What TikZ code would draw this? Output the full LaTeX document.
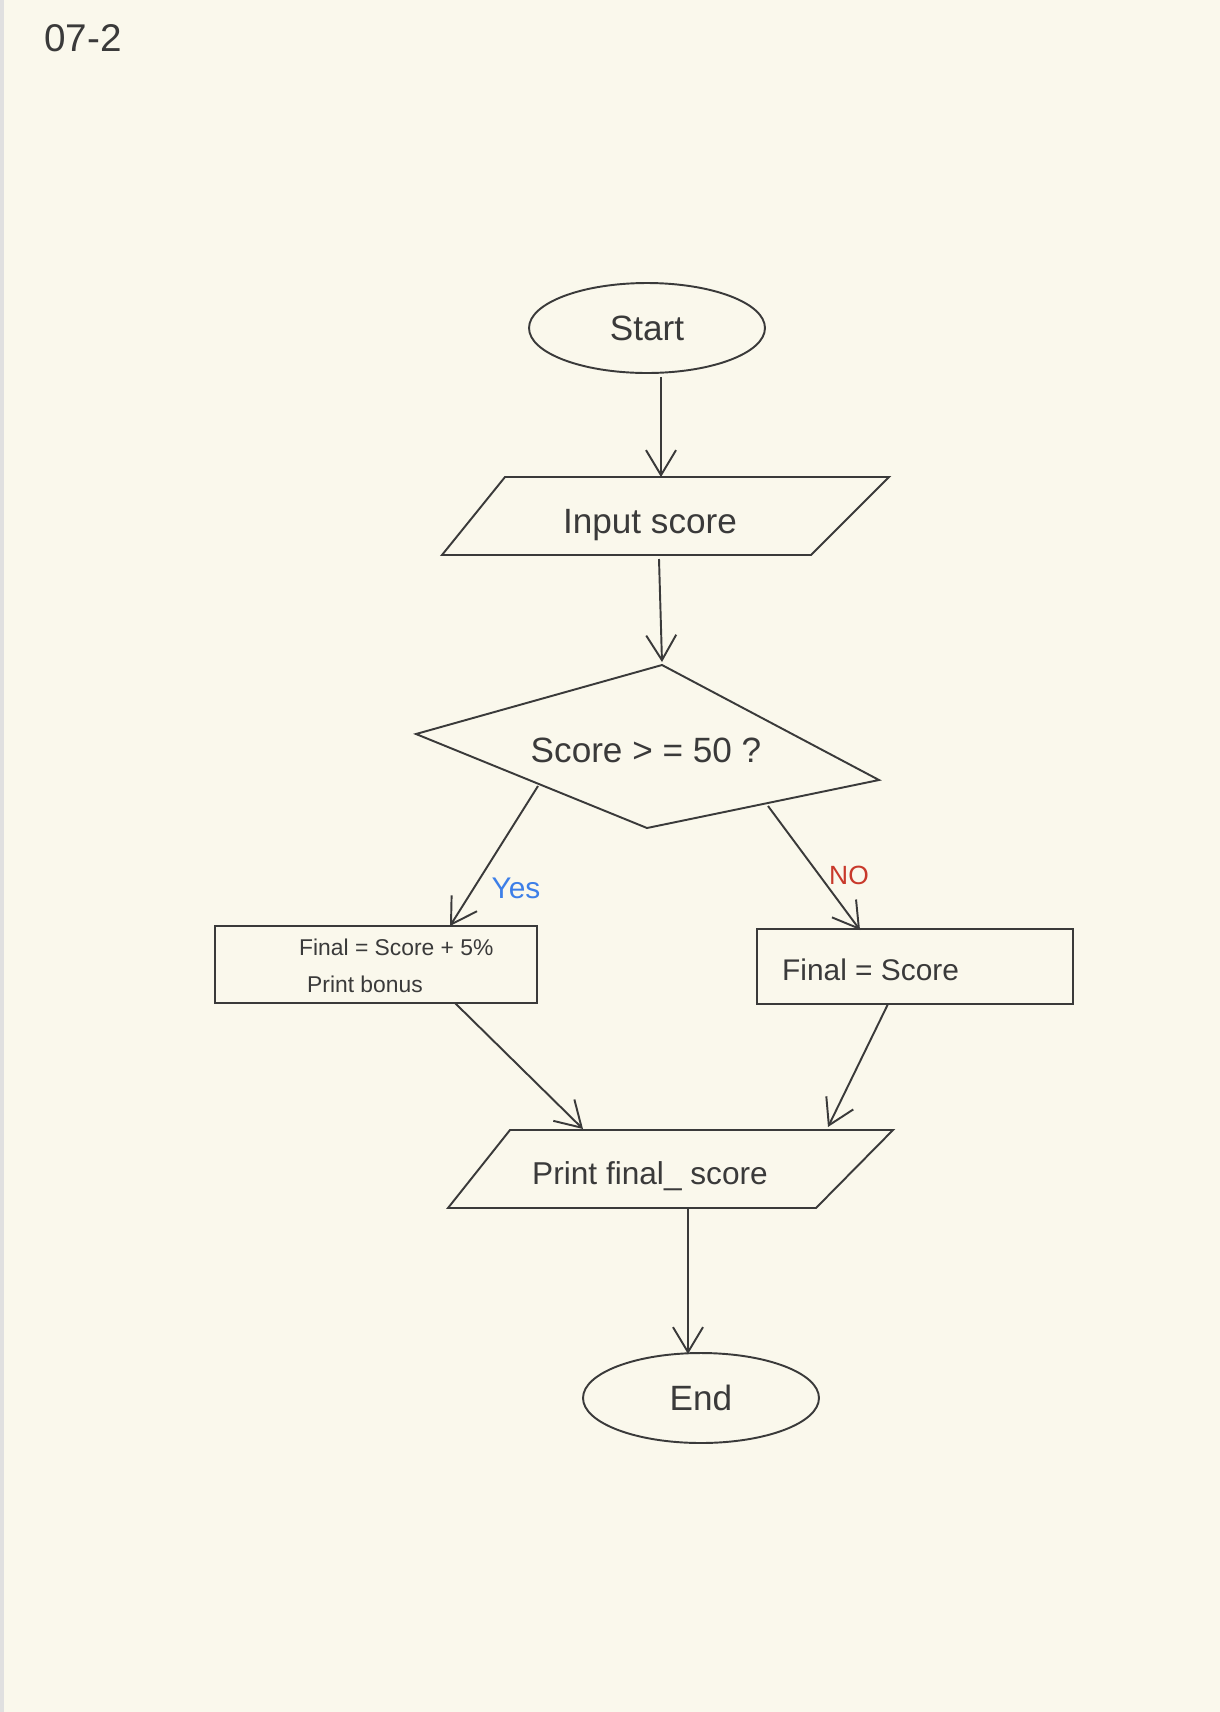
\documentclass[tikz,border=0pt]{standalone}
\usepackage{fontspec}
\setmainfont{Liberation Sans}
\usetikzlibrary{arrows.meta,shapes.geometric}
\definecolor{paper}{HTML}{FAF8EC}
\definecolor{ink}{HTML}{3A3A3A}
\definecolor{yescol}{HTML}{3D7FE8}
\definecolor{nocol}{HTML}{C8392B}
\tikzset{
  flowline/.style={line width=1.1pt,draw=ink},
  flowarrow/.style={line width=1.1pt,draw=ink,-{Straight Barb[length=5mm,width=6mm]}},
  label/.style={text=ink,font=\fontsize{20}{24}\selectfont},
  smalllabel/.style={text=ink,font=\fontsize{13}{16}\selectfont}
}
\begin{document}
\begin{tikzpicture}[x=0.02cm,y=-0.02cm]
			\useasboundingbox (0,0) rectangle (1220,1712);
			\fill [paper] (0,0) rectangle (1220,1712);
			\fill [black!12] (0,0) rectangle (4,1712);
			\node [label,anchor=west,font=\fontsize{22}{26}\selectfont] (title) at (38,38) {07-2};
			% start and end
			\node [flowline,ellipse,minimum width=4.72cm,minimum height=1.8cm,label] (start) at (647,328) {Start};
			\node [flowline,ellipse,minimum width=4.72cm,minimum height=1.8cm,label] (end) at (701,1398) {End};
			\coordinate (startbot) at (661,377);
			\coordinate (endtop) at (688,1354);
			% input
			\draw [flowline] (505,477) -- (889,477) -- (811,555) -- (442,555) -- cycle;
			\node [label] (input) at (650,525) {Input score};
			\coordinate (inputtop) at (661,477);
			\coordinate (inputbot) at (659,559);
			% decision
			\draw [flowline] (662,665) -- (879,780) -- (647,828) -- (416,734) -- cycle;
			\node [label] (check) at (646,750) {Score > = 50 ?};
			\coordinate (checktop) at (662,662);
			\coordinate (checkleft) at (538,786);
			\coordinate (checkright) at (768,806);
			% branches
			\node [flowline,rectangle,minimum width=6.44cm,minimum height=1.54cm] (bonus) at (376,964.5) {};
			\node [smalllabel,anchor=west] (bonusA) at (293,947) {Final = Score + 5\%};
			\node [smalllabel,anchor=west] (bonusB) at (301,984) {Print bonus};
			\node [flowline,rectangle,minimum width=6.32cm,minimum height=1.5cm] (plain) at (915,966.5) {};
			\node [label,anchor=west,font=\fontsize{17}{20}\selectfont] (plainA) at (776,970) {Final = Score};
			\coordinate (bonustop) at (450,926);
			\coordinate (plaintop) at (860,930);
			\coordinate (bonusbot) at (455,1003);
			\coordinate (plainbot) at (888,1004);
			\node [text=yescol,font=\fontsize{17}{20}\selectfont] (yes) at (516,888) {Yes};
			\node [text=nocol,font=\fontsize{15}{18}\selectfont] (no) at (849,875) {NO};
			% output
			\draw [flowline] (510,1130) -- (893,1130) -- (816,1208) -- (448,1208) -- cycle;
			\node [label,font=\fontsize{18}{22}\selectfont] (output) at (650,1176) {Print final\_ score};
			\coordinate (outleft) at (583,1129);
			\coordinate (outright) at (828,1127);
			\coordinate (outbot) at (688,1208);
			% connectors
			\draw [flowarrow] (startbot) -- (inputtop);
			\draw [flowarrow] (inputbot) -- (checktop);
			\draw [flowarrow] (checkleft) -- (bonustop);
			\draw [flowarrow] (checkright) -- (plaintop);
			\draw [flowarrow] (bonusbot) -- (outleft);
			\draw [flowarrow] (plainbot) -- (outright);
			\draw [flowarrow] (outbot) -- (endtop);
		\end{tikzpicture}
\end{document}
